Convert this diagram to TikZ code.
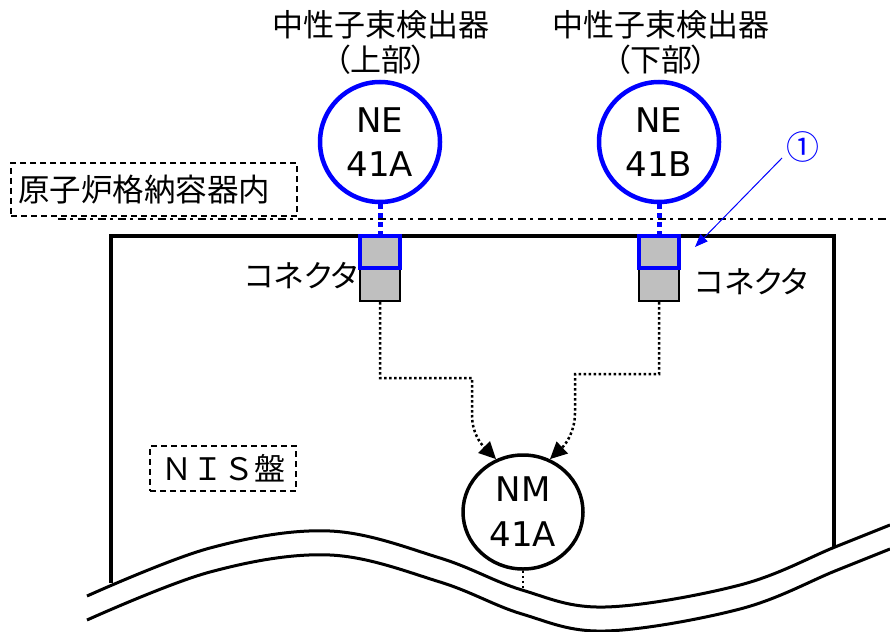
\documentclass[tikz,border=0pt]{standalone}
\usepackage{fontspec}
\setmainfont{DejaVu Sans}
\newfontfamily\jp[RawFeature=+palt]{Noto Sans CJK JP}
\newfontfamily\jpf{Noto Sans CJK JP}
\usetikzlibrary{arrows.meta,shapes.geometric}
\definecolor{pblue}{RGB}{0,0,255}
\definecolor{cgray}{RGB}{191,191,191}
\begin{document}
\begin{tikzpicture}[x=1pt,y=-1pt,
 jptext/.style={font=\jp\fontsize{31}{36}\selectfont, inner sep=0pt},
 detector/.style={circle, draw=pblue, line width=4.5pt, minimum size=120pt, inner sep=0pt, align=center, font=\fontsize{34}{44}\selectfont},
 monitor/.style={ellipse, draw, line width=3.5pt, minimum width=120pt, minimum height=114pt, inner sep=0pt, align=center, font=\fontsize{34}{45}\selectfont},
 conntop/.style={rectangle, draw=pblue, line width=4pt, fill=cgray, minimum width=40pt, minimum height=32pt, inner sep=0pt},
 connbot/.style={rectangle, draw, line width=2pt, fill=cgray, minimum width=40pt, minimum height=32pt, inner sep=0pt},
 areabox/.style={draw, dash pattern=on 6pt off 4pt, line width=1.5pt},
 bluedots/.style={draw=pblue, line width=5pt, dash pattern=on 5pt off 4pt},
 flow/.style={draw, line width=2.5pt, dash pattern=on 2.5pt off 2.5pt, -{Triangle[length=17pt,width=16pt]}},
 wall/.style={line width=3.5pt},
 wave/.style={line width=3pt},
 borderline/.style={line width=2pt, dash pattern=on 8pt off 4pt on 3pt off 5pt},
 pointer/.style={draw=pblue, line width=1pt, -{Triangle[length=13pt,width=10pt]}},
]
\useasboundingbox (0,0) rectangle (890,631);

% titles
\node[jptext] (tA1) at (381,25) {中性子束検出器};
\node[jptext] (tA2) at (381,60) {（上部）};
\node[jptext] (tB1) at (661,25) {中性子束検出器};
\node[jptext] (tB2) at (661,60) {（下部）};

% containment boundary
\node[areabox, font=\jp\fontsize{31.5}{36}\selectfont, inner xsep=7pt, inner ysep=0pt,
      text width=272pt, align=left, minimum height=53pt] (cv) at (154,189.5) {原子炉格納容器内};
\draw[borderline] (58,219) -- (890,219);

% panel
\draw[wall] (111,583) -- (111,236) -- (834,236) -- (834,548);

% detectors
\node[detector] (neA) at (380,142) {NE\\41A};
\node[detector] (neB) at (659,142) {NE\\41B};

% connectors
\node[connbot] (cAbot) at (380,285) {};
\node[conntop] (cAtop) at (380,252) {};
\node[connbot] (cBbot) at (659,285) {};
\node[conntop] (cBtop) at (659,252) {};
\node[jptext, anchor=east] (lA) at (358,276) {コネクタ};
\node[jptext, anchor=west] (lB) at (695,282) {コネクタ};

\draw[bluedots] (neA.south) -- (cAtop.north);
\draw[bluedots] (neB.south) -- (cBtop.north);

% NIS panel label
\node[areabox, font=\jpf\fontsize{31}{36}\selectfont, inner sep=0pt,
      minimum width=146pt, minimum height=45pt] (nis) at (223,468.5) {ＮＩＳ盤};

% monitor
\node[monitor] (NM) at (523,512) {NM\\41A};

\draw[flow] (cAbot.south) -- (380,378) -- (472,378) -- (472,415)
   .. controls (472,432) and (480,443) .. (NM.117);
\draw[flow] (cBbot.south) -- (659,374) -- (575,374) -- (575,413)
   .. controls (575,430) and (567,443) .. (NM.63);

\coordinate (wend) at (523,590);
\draw[line width=2.5pt, dash pattern=on 2.5pt off 2.5pt] (NM.south) -- (wend);

% pointer 1
\node[text=pblue, font=\jp\fontsize{33}{36}\selectfont, inner sep=0pt] (n1) at (803,147) {①};
\coordinate (p1s) at (782,158);
\coordinate (p1e) at (695,247);
\draw[pointer] (p1s) -- (p1e);

% cut waves
\draw[wave] plot[smooth, tension=0.6] coordinates {(87,596) (210,548) (330,531) (440,558) (522,590) (605,607) (740,585) (835,547) (890,525)};
\draw[wave] plot[smooth, tension=0.6] coordinates {(87,620) (210,572) (330,555) (440,582) (522,614) (605,631) (740,609) (835,571) (890,549)};
\end{tikzpicture}
\end{document}
